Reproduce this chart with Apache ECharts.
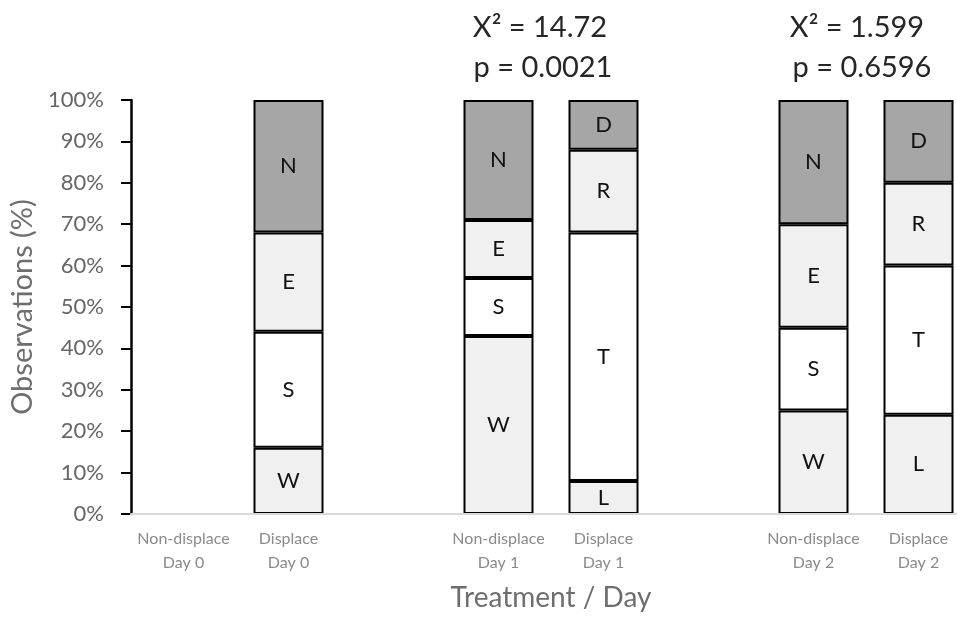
<!DOCTYPE html>
<html>
<head>
<meta charset="utf-8">
<script src="https://cdn.jsdelivr.net/npm/echarts@6/dist/echarts.min.js"></script>
<style>
html,body{margin:0;padding:0;background:#fff;}
#chart{width:957px;height:617px;}
</style>
</head>
<body>
<div id="chart"></div>
<script>
// Categories (empty strings are the spacer slots between days)
const categories = ['Non-displace\nDay 0', 'Displace\nDay 0', '', 'Non-displace\nDay 1', 'Displace\nDay 1', '', 'Non-displace\nDay 2', 'Displace\nDay 2'];

// Stacked segment values (% of observations), bottom to top
const seg1Values = [null, 16, null, 43, 8, null, 25, 24];
const seg2Values = [null, 28, null, 14, 60, null, 20, 36];
const seg3Values = [null, 24, null, 14, 20, null, 25, 20];
const seg4Values = [null, 32, null, 29, 12, null, 30, 20];

// Segment letters
const seg1Letters = ['', 'W', '', 'W', 'L', '', 'W', 'L'];
const seg2Letters = ['', 'S', '', 'S', 'T', '', 'S', 'T'];
const seg3Letters = ['', 'E', '', 'E', 'R', '', 'E', 'R'];
const seg4Letters = ['', 'N', '', 'N', 'D', '', 'N', 'D'];

// Statistics annotations
const statLines = [
  ['X\u00B2 = 14.72', 'p = 0.0021'],
  ['X\u00B2 = 1.599', 'p = 0.6596']
];

const yTicks = [0, 10, 20, 30, 40, 50, 60, 70, 80, 90, 100];

const FONT = 'Lato, "Open Sans", sans-serif';
const LIGHT = '#f0f0f0', WHITE = '#ffffff', DARK = '#a6a6a6';

function seg(name, values, letters, color) {
  return {
    name: name,
    type: 'bar',
    stack: 'total',
    barWidth: 70,
    data: values,
    itemStyle: { color: color, borderColor: '#000', borderWidth: 2 },
    label: {
      show: true,
      position: 'inside',
      color: '#111',
      fontFamily: FONT,
      fontSize: 22,
      formatter: p => letters[p.dataIndex]
    },
    emphasis: { disabled: true }
  };
}

const chart = echarts.init(document.getElementById('chart'), null, { renderer: 'canvas' });
chart.setOption({
  animation: false,
  backgroundColor: '#fff',
  grid: { left: 131, width: 840, top: 100, height: 414, containLabel: false, outerBoundsMode: 'none' },
  xAxis: {
    type: 'category',
    data: categories,
    axisLine: { show: true, lineStyle: { color: '#d9d9d9', width: 2 } },
    axisTick: { show: false },
    axisLabel: {
      interval: 0,
      color: '#8a8a8a',
      fontFamily: FONT,
      fontSize: 16,
      lineHeight: 24,
      margin: 13
    },
    name: 'Treatment / Day',
    nameLocation: 'middle',
    nameGap: 70,
    nameTextStyle: { color: '#6e6e6e', fontFamily: FONT, fontSize: 28 },
    z: 10
  },
  yAxis: {
    type: 'value',
    min: 0,
    max: 100,
    interval: 10,
    splitLine: { show: false },
    axisLine: { show: true, lineStyle: { color: '#000', width: 2.5 } },
    axisTick: { show: true, inside: false, length: 10, lineStyle: { color: '#000', width: 2 } },
    axisLabel: {
      color: '#666',
      fontFamily: FONT,
      fontSize: 22,
      margin: 27,
      formatter: v => yTicks.indexOf(v) >= 0 ? v + '%' : ''
    },
    name: 'Observations (%)',
    nameLocation: 'middle',
    nameGap: 88,
    nameTextStyle: { color: '#6e6e6e', fontFamily: FONT, fontSize: 29 }
  },
  series: [
    seg('seg1', seg1Values, seg1Letters, LIGHT),
    seg('seg2', seg2Values, seg2Letters, WHITE),
    seg('seg3', seg3Values, seg3Letters, LIGHT),
    seg('seg4', seg4Values, seg4Letters, DARK)
  ],
  graphic: [
    { type: 'text', x: 540, y: 28, style: { text: statLines[0][0], fill: '#262626', font: '29px ' + FONT, textAlign: 'center', textVerticalAlign: 'middle' } },
    { type: 'text', x: 543, y: 68, style: { text: statLines[0][1], fill: '#262626', font: '29px ' + FONT, textAlign: 'center', textVerticalAlign: 'middle' } },
    { type: 'text', x: 857, y: 28, style: { text: statLines[1][0], fill: '#262626', font: '29px ' + FONT, textAlign: 'center', textVerticalAlign: 'middle' } },
    { type: 'text', x: 862, y: 68, style: { text: statLines[1][1], fill: '#262626', font: '29px ' + FONT, textAlign: 'center', textVerticalAlign: 'middle' } }
  ]
});
</script>
</body>
</html>
